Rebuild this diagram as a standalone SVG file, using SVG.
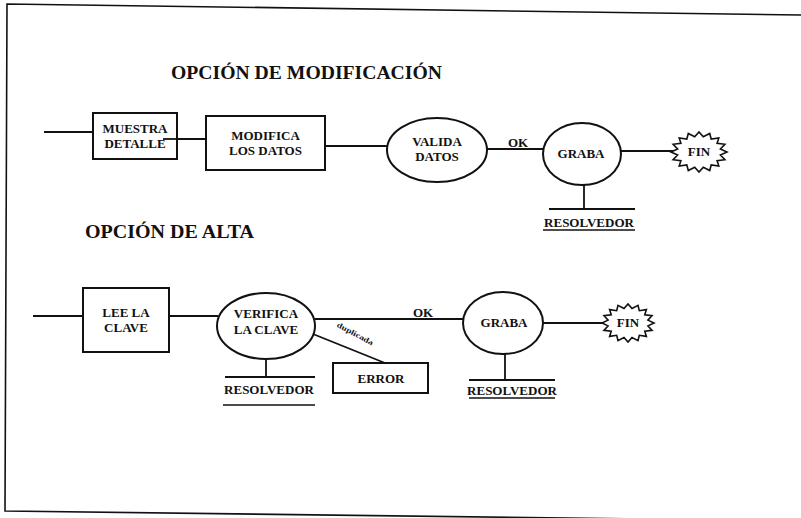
<svg xmlns="http://www.w3.org/2000/svg" width="801" height="518" viewBox="0 0 801 518">
<style>
  .bg { fill: #ffffff; }
  .frame { fill: none; stroke: #111; stroke-width: 1.6; }
  .box { fill: #fff; stroke: #111; stroke-width: 2; }
  .ell { fill: #fff; stroke: #111; stroke-width: 2; }
  .star { fill: #fff; stroke: #111; stroke-width: 1.6; stroke-linejoin: miter; }
  .ln { fill: none; stroke: #111; stroke-width: 1.8; }
  .t { font-family: "Liberation Serif", "DejaVu Serif", serif; font-weight: bold; font-size: 13px; fill: #111; text-anchor: middle; }
  .title { font-family: "Liberation Serif", "DejaVu Serif", serif; font-weight: bold; font-size: 18px; fill: #111; }
  .small { font-family: "Liberation Serif", "DejaVu Serif", serif; font-weight: bold; font-size: 7.5px; fill: #111; text-anchor: middle; }
</style>
<rect class="bg" x="0" y="0" width="801" height="518"/>
<polyline class="frame" points="801,15 7,4 5,511 801,521"/>

<text class="title" x="171" y="79" textLength="271" lengthAdjust="spacingAndGlyphs">OPCIÓN DE MODIFICACIÓN</text>
<text class="title" x="85" y="238" textLength="169" lengthAdjust="spacingAndGlyphs">OPCIÓN DE ALTA</text>

<g id="connectors">
  <!-- row 1 -->
  <line class="ln" x1="44" y1="132" x2="93" y2="132"/>
  <line class="ln" x1="163" y1="139" x2="206" y2="139"/>
  <line class="ln" x1="325" y1="146" x2="388" y2="146"/>
  <line class="ln" x1="487" y1="149" x2="544" y2="149"/>
  <line class="ln" x1="621" y1="151" x2="673" y2="151"/>
  <line class="ln" x1="584" y1="185" x2="584" y2="209"/>
  <!-- row 2 -->
  <line class="ln" x1="33" y1="316" x2="83" y2="316"/>
  <line class="ln" x1="169" y1="316" x2="218" y2="316"/>
  <line class="ln" x1="315" y1="319" x2="463" y2="319"/>
  <line class="ln" x1="313" y1="334" x2="385" y2="363"/>
  <line class="ln" x1="266" y1="359" x2="266" y2="377"/>
  <line class="ln" x1="542" y1="323" x2="603" y2="323"/>
  <line class="ln" x1="505" y1="354" x2="505" y2="380"/>
  <text class="t" x="518" y="147">OK</text>
  <text class="t" x="423" y="317">OK</text>
  <text class="small" x="0" y="0" transform="translate(354,336) rotate(28)" textLength="40" lengthAdjust="spacingAndGlyphs">duplicada</text>
</g>

<g id="muestra-detalle">
  <rect class="box" x="93" y="113" width="84" height="46"/>
  <text class="t" x="135" y="133">MUESTRA</text>
  <text class="t" x="135" y="148">DETALLE</text>
  <line class="ln" x1="163" y1="139" x2="177" y2="139"/>
</g>

<g id="modifica-datos">
  <rect class="box" x="206" y="116" width="119" height="54"/>
  <text class="t" x="265.5" y="140">MODIFICA</text>
  <text class="t" x="265.5" y="155">LOS DATOS</text>
</g>

<g id="valida-datos">
  <ellipse class="ell" cx="437" cy="150" rx="50" ry="32"/>
  <text class="t" x="437" y="146">VALIDA</text>
  <text class="t" x="437" y="161">DATOS</text>
</g>

<g id="graba-1">
  <ellipse class="ell" cx="582" cy="154" rx="39" ry="31"/>
  <text class="t" x="581" y="158">GRABA</text>
</g>

<g id="fin-1">
  <polygon class="star" points="727,152 720.4,155 724.9,159.7 717.1,160.7 718.8,166.1 711.2,165 709.7,170.5 703.3,167.3 699,172 694.7,167.3 688.3,170.5 686.8,165 679.2,166.1 680.9,160.7 673.1,159.7 677.6,155 671,152 677.6,149 673.1,144.3 680.9,143.3 679.2,137.9 686.8,139 688.3,133.5 694.7,136.7 699,132 703.3,136.7 709.7,133.5 711.2,139 718.8,137.9 717.1,143.3 724.9,144.3 720.4,149"/>
  <text class="t" x="699" y="156">FIN</text>
</g>

<g id="resolvedor-1">
  <line class="ln" x1="549" y1="209" x2="635" y2="209"/>
  <text class="t" x="589" y="227">RESOLVEDOR</text>
  <line class="ln" x1="543" y1="230" x2="635" y2="230" style="stroke-width:1.4"/>
</g>

<g id="lee-clave">
  <rect class="box" x="83" y="288" width="86" height="64"/>
  <text class="t" x="126" y="317">LEE LA</text>
  <text class="t" x="126" y="332">CLAVE</text>
</g>

<g id="verifica-clave">
  <ellipse class="ell" cx="266" cy="326" rx="49" ry="33"/>
  <text class="t" x="266" y="318">VERIFICA</text>
  <text class="t" x="266" y="334">LA CLAVE</text>
</g>

<g id="resolvedor-2">
  <line class="ln" x1="225" y1="377" x2="315" y2="377"/>
  <text class="t" x="269" y="394">RESOLVEDOR</text>
  <line class="ln" x1="223" y1="405" x2="315" y2="405" style="stroke-width:1.4"/>
</g>

<g id="error">
  <rect class="box" x="333" y="363" width="95" height="30"/>
  <text class="t" x="381" y="383">ERROR</text>
</g>

<g id="graba-2">
  <ellipse class="ell" cx="503" cy="323" rx="40" ry="31"/>
  <text class="t" x="504" y="327">GRABA</text>
</g>

<g id="fin-2">
  <polygon class="star" points="654,323 647.9,325.9 652,330.3 644.8,331.2 646.4,336.4 639.3,335.3 638,340.6 632,337.5 628,342 624,337.5 618,340.6 616.7,335.3 609.6,336.4 611.2,331.2 604,330.3 608.1,325.9 602,323 608.1,320.1 604,315.7 611.2,314.8 609.6,309.6 616.7,310.7 618,305.4 624,308.5 628,304 632,308.5 638,305.4 639.3,310.7 646.4,309.6 644.8,314.8 652,315.7 647.9,320.1"/>
  <text class="t" x="628" y="327">FIN</text>
</g>

<g id="resolvedor-3">
  <line class="ln" x1="469" y1="380" x2="555" y2="380"/>
  <text class="t" x="512" y="395">RESOLVEDOR</text>
  <line class="ln" x1="469" y1="398" x2="555" y2="398" style="stroke-width:1.4"/>
</g>
</svg>
